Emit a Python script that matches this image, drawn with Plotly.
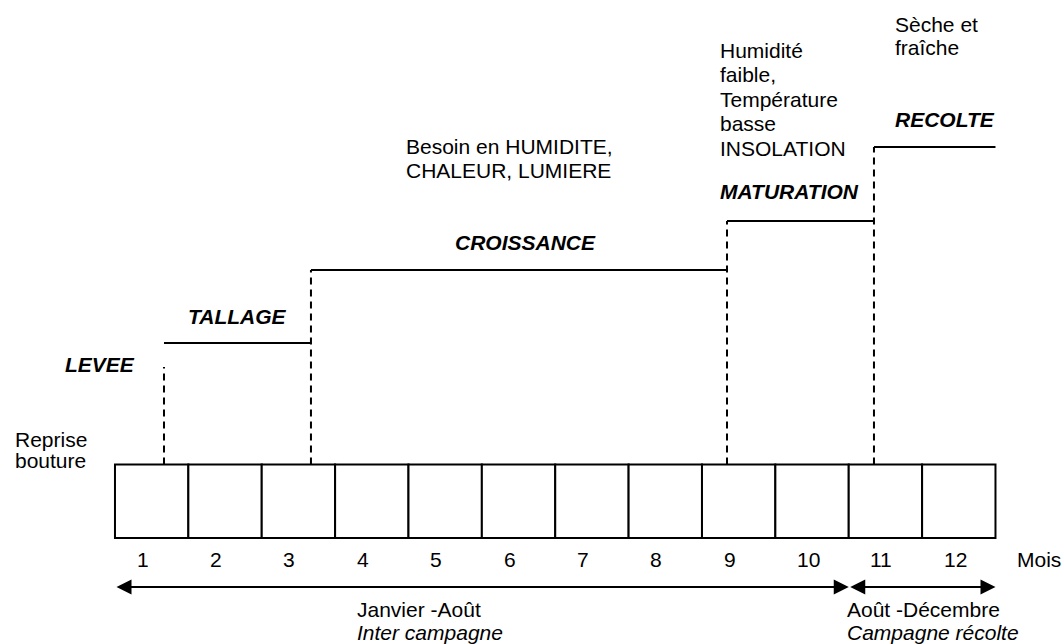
import plotly.graph_objects as go

# ---------------- data ----------------
months = [1, 2, 3, 4, 5, 6, 7, 8, 9, 10, 11, 12]
month_labels = ["1", "2", "3", "4", "5", "6", "7", "8", "9", "10", "11", "12"]

stages = ["LEVEE", "TALLAGE", "CROISSANCE", "MATURATION", "RECOLTE"]
# month position where each phase boundary (dashed line) sits
stage_bounds = [1.168, 3.171, 8.841, 10.844, 12.5]
# level of each step (TALLAGE, CROISSANCE, MATURATION, RECOLTE)
step_levels = [2.653, 3.646, 4.313, 5.320]
levee_top = 2.327

periods = ["Janvier -Août", "Août -Décembre"]
period_sub = ["Inter campagne", "Campagne récolte"]
period_start = [0.5, 10.5]
period_end = [10.5, 12.5]

FONT = "Arial, 'Liberation Sans', sans-serif"
FS = 21

fig = go.Figure()

# month boxes
shapes = []
for m in months:
    shapes.append(dict(type="rect", xref="x", yref="y", x0=m - 0.5, x1=m + 0.5,
                       y0=0, y1=1, line=dict(color="black", width=2),
                       fillcolor="white", layer="above"))

# step horizontal lines
for i, lvl in enumerate(step_levels):
    fig.add_trace(go.Scatter(x=[stage_bounds[i], stage_bounds[i + 1]], y=[lvl, lvl],
                             mode="lines", line=dict(color="black", width=2),
                             hoverinfo="skip", showlegend=False))

# dashed verticals
vert_tops = [levee_top] + step_levels[1:]
for b, top in zip(stage_bounds[:4], vert_tops):
    fig.add_trace(go.Scatter(x=[b, b], y=[1, top], mode="lines",
                             line=dict(color="black", width=2, dash="7px,5px"),
                             hoverinfo="skip", showlegend=False))

ann = []

def txt(x, y, s, bold=False, italic=False):
    if bold:
        s = "<b>" + s + "</b>"
    if italic:
        s = "<i>" + s + "</i>"
    ann.append(dict(x=x, y=y, xref="x", yref="y", text=s, showarrow=False,
                    xanchor="left", yanchor="middle",
                    font=dict(family=FONT, size=FS, color="black")))

# stage labels
stage_pos = [(-0.209, 2.367), (1.468, 3.020), (5.106, 4.027), (8.718, 4.721), (11.103, 5.701)]
for name, (x, y) in zip(stages, stage_pos):
    txt(x, y, name, bold=True, italic=True)

# descriptive texts
txt(-0.890, 1.347, "Reprise")
txt(-0.890, 1.048, "bouture")
txt(4.439, 5.333, "Besoin en HUMIDITE,")
txt(4.439, 5.007, "CHALEUR, LUMIERE")
for s, y in zip(["Humidité", "faible,", "Température", "basse", "INSOLATION"],
                [6.639, 6.313, 5.973, 5.646, 5.306]):
    txt(8.718, y, s)
txt(11.103, 6.980, "Sèche et")
txt(11.103, 6.680, "fraîche")

# month labels
for m, lab in zip(months, month_labels):
    txt(m - 0.232, -0.286, lab)
txt(12.766, -0.286, "Mois")

# period arrows and labels
arrow_y = -0.667
for p, s, x0, x1, lx in zip(periods, period_sub, period_start, period_end, [3.771, 10.449]):
    ann.append(dict(x=x1, y=arrow_y, ax=x0, ay=arrow_y, xref="x", yref="y",
                    axref="x", ayref="y", text="", showarrow=True,
                    arrowhead=2, arrowsize=1.5, arrowwidth=2, arrowcolor="black",
                    startarrowhead=2, startarrowsize=1.5, arrowside="end+start",
                    standoff=0, startstandoff=0))
    txt(lx, -0.966, p)
    txt(lx, -1.279, s, italic=True)

fig.update_layout(
    width=1061, height=644, autosize=False,
    margin=dict(l=0, r=0, t=0, b=0),
    paper_bgcolor="white", plot_bgcolor="white",
    xaxis=dict(range=[-1.067, 13.393], visible=False, fixedrange=True),
    yaxis=dict(range=[-1.442, 7.320], visible=False, fixedrange=True),
    shapes=shapes, annotations=ann, showlegend=False,
)

fig.write_html("out.html", config={"displayModeBar": False},
               post_script="document.body.style.margin='0px';document.body.style.overflow='hidden';")
